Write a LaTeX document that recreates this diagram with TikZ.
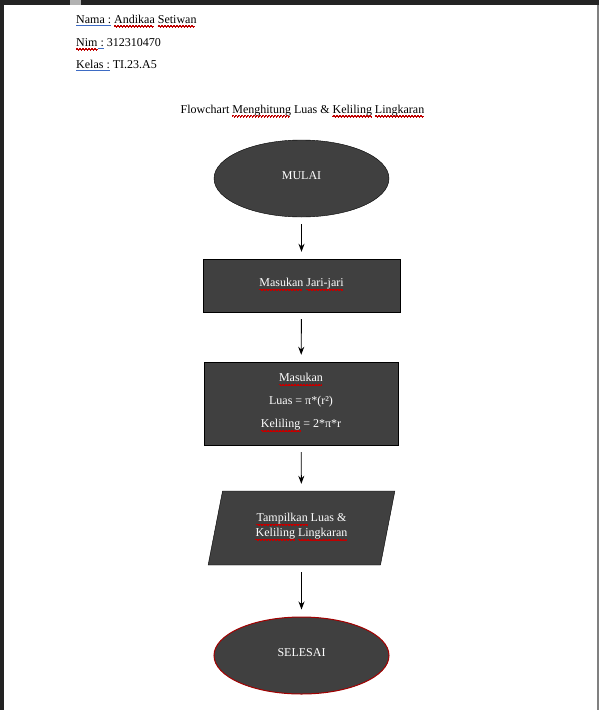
\documentclass[tikz,border=0pt]{standalone}
\usepackage{fontspec}
\setmainfont{Liberation Serif}
\usepackage{tikz}
\usetikzlibrary{shapes.geometric,arrows.meta}
\definecolor{blok}{HTML}{404040}
\definecolor{bingkai}{HTML}{232323}
\definecolor{eja}{HTML}{C00000}
\definecolor{tata}{HTML}{3D6BC4}
\newsavebox\kotakteks
\newcommand{\gelombang}{\setlength\unitlength{1pt}\begin{picture}(3,0)\qbezier(0,0)(0.75,1.4)(1.5,0)\qbezier(1.5,0)(2.25,-1.4)(3,0)\end{picture}}
\newcommand{\salaheja}[1]{\sbox\kotakteks{#1}\rlap{\usebox\kotakteks}\raisebox{-3pt}{\hbox to \wd\kotakteks{\color{eja}\leaders\hbox{\gelombang}\hfill}}}
\newcommand{\salahtata}[1]{\sbox\kotakteks{#1}\rlap{\usebox\kotakteks}\raisebox{-2.5pt}{\textcolor{tata}{\rule{\wd\kotakteks}{0.7pt}}}}
\tikzset{x=1pt,y=-1pt,every node/.style={font=\fontsize{12}{14}\selectfont},
  kepala/.style={anchor=base west,inner sep=0pt},
  oval/.style={ellipse,draw=black,fill=blok,text=white,text depth=5pt,minimum width=175pt,minimum height=77pt},
  proses/.style={rectangle,draw=black,fill=blok,text=white,text depth=6pt,align=center},
  io/.style={trapezium,trapezium left angle=76,trapezium right angle=104,trapezium stretches=true,
    draw=black,fill=blok,text=white,text depth=6pt,align=center,minimum width=187pt,minimum height=74pt},
  panah/.style={-{Stealth[length=8pt,width=6pt]},line width=0.9pt,shorten <=7pt,shorten >=7pt}}

\begin{document}
\begin{tikzpicture}
    \useasboundingbox (0,0) rectangle (599,710);
    % bingkai jendela
    \fill[bingkai] (0,0) rectangle (599,5);
    \fill[bingkai] (0,0) rectangle (4,710);
    \fill[gray!60] (70,0) rectangle (81,5);
    \draw[gray,line width=1.5pt] (598,5) -- (598,710);

    \node[kepala] (nama) at (76,23) {\salahtata{Nama :} \salaheja{Andikaa} \salaheja{Setiwan}};
    \node[kepala] (nim) at (76,46) {\salaheja{Nim}\salahtata{ :} 312310470};
    \node[kepala] (kelas) at (76,68) {\salahtata{Kelas :} TI.23.A5};
    \node[anchor=base,inner sep=0pt] (judul) at (302.5,113) {Flowchart \salaheja{Menghitung} Luas \& \salaheja{Keliling} \salaheja{Lingkaran}};

    \node[oval] (1) at (301.5,178.5) {MULAI};
    \node[proses,minimum width=197pt,minimum height=53pt] (2) at (301.5,285.5) {\salaheja{Masukan} \salaheja{Jari-jari}};
    \node[proses,minimum width=194pt,minimum height=83pt,font=\fontsize{12}{23}\selectfont] (3) at (301,403.5)
        {\salaheja{Masukan}\\Luas = π*(r²)\\\salaheja{Keliling} = 2*π*r};
    \node[io,font=\fontsize{12}{15}\selectfont] (4) at (301.5,528) {\salaheja{Tampilkan} Luas \&\\\salaheja{Keliling} \salaheja{Lingkaran}};
    \node[oval,draw=eja!85!black,line width=1pt] (5) at (301.5,655.5) {SELESAI};
    \path[panah]
    (1) edge (2)
    (2) edge (3)
    (3) edge (4)
    (4) edge (5)
    ;
\end{tikzpicture}
\end{document}
